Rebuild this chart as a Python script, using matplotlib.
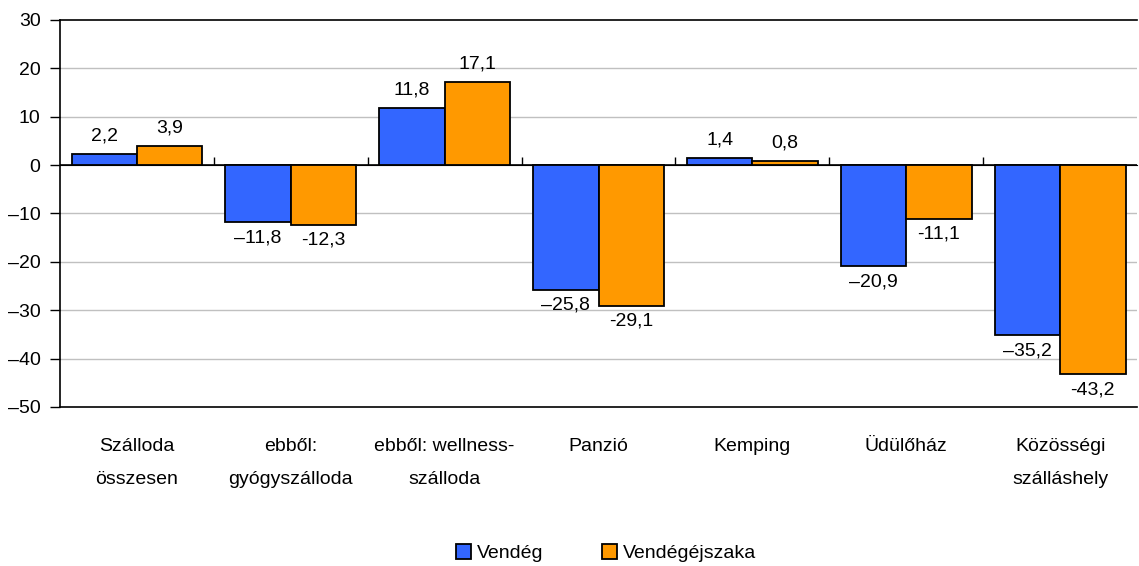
import numpy as np
import matplotlib.pyplot as plt
from matplotlib.patches import Patch

plt.rcParams['font.family'] = ['Liberation Sans', 'DejaVu Sans']

# Data
categories = ["Szálloda\nösszesen", "ebből:\ngyógyszálloda", "ebből: wellness-\nszálloda",
              "Panzió", "Kemping", "Üdülőház", "Közösségi\nszálláshely"]
vendeg = [2.2, -11.8, 11.8, -25.8, 1.4, -20.9, -35.2]
vendegejszaka = [3.9, -12.3, 17.1, -29.1, 0.8, -11.1, -43.2]
series_names = ["Vendég", "Vendégéjszaka"]

blue = "#3366FF"
orange = "#FF9900"
fs = 14

fig = plt.figure(figsize=(11.39, 5.66), dpi=100)
ax = fig.add_axes([0.0527, 0.281, 0.9456, 0.6837])

x = np.arange(len(categories))
w = 0.425
ax.bar(x - w / 2, vendeg, w, color=blue, edgecolor="black", linewidth=1.3, zorder=3)
ax.bar(x + w / 2, vendegejszaka, w, color=orange, edgecolor="black", linewidth=1.3, zorder=3)

# value labels (blue uses en dash, orange uses hyphen as in original)
def fmt(v, dash):
    s = f"{abs(v):.1f}".replace(".", ",")
    return (dash + s) if v < 0 else s

for xs, vals, dash in [(x - w / 2, vendeg, "–"), (x + w / 2, vendegejszaka, "-")]:
    for xi, v in zip(xs, vals):
        off = 7 if v >= 0 else -5
        ax.annotate(fmt(v, dash), (xi, v), xytext=(0, off), textcoords="offset points",
                    ha="center", va="bottom" if v >= 0 else "top", fontsize=fs, zorder=4)

ax.set_xlim(-0.5, len(categories) - 0.5)
ax.set_ylim(-50, 30)
ax.set_yticks(range(-50, 31, 10))
ax.set_yticklabels([("–" + str(-t)) if t < 0 else str(t) for t in range(-50, 31, 10)])
ax.tick_params(axis="y", direction="out", length=7, width=1, labelsize=fs, pad=7)
for t in range(-40, 30, 10):
    if t != 0:
        ax.axhline(t, color="#C0C0C0", linewidth=1, zorder=1)
ax.axhline(0, color="black", linewidth=1.2, zorder=2)

ax.set_xticks(x)
ax.set_xticklabels(categories, fontsize=fs, linespacing=2.3, va="top")
ax.tick_params(axis="x", length=0, pad=22)

ax.spines["right"].set_visible(False)
for s in ["top", "bottom", "left"]:
    ax.spines[s].set_linewidth(1.2)

# separator ticks on the zero line
sec = ax.secondary_xaxis(50 / 80)
sec.set_xticks(np.arange(0.5, len(categories) - 1, 1.0))
sec.set_xticklabels([])
sec.tick_params(direction="out", length=6, width=1)
sec.spines["bottom"].set_visible(False)

handles = [Patch(facecolor=blue, edgecolor="black", linewidth=1.3),
           Patch(facecolor=orange, edgecolor="black", linewidth=1.3)]
fig.legend(handles, series_names, loc="center", bbox_to_anchor=(0.532, 0.023), ncol=2,
           frameon=False, fontsize=fs, handlelength=0.8, handleheight=0.8,
           handletextpad=0.3, columnspacing=3.0)

fig.savefig("out.png", dpi=100)
